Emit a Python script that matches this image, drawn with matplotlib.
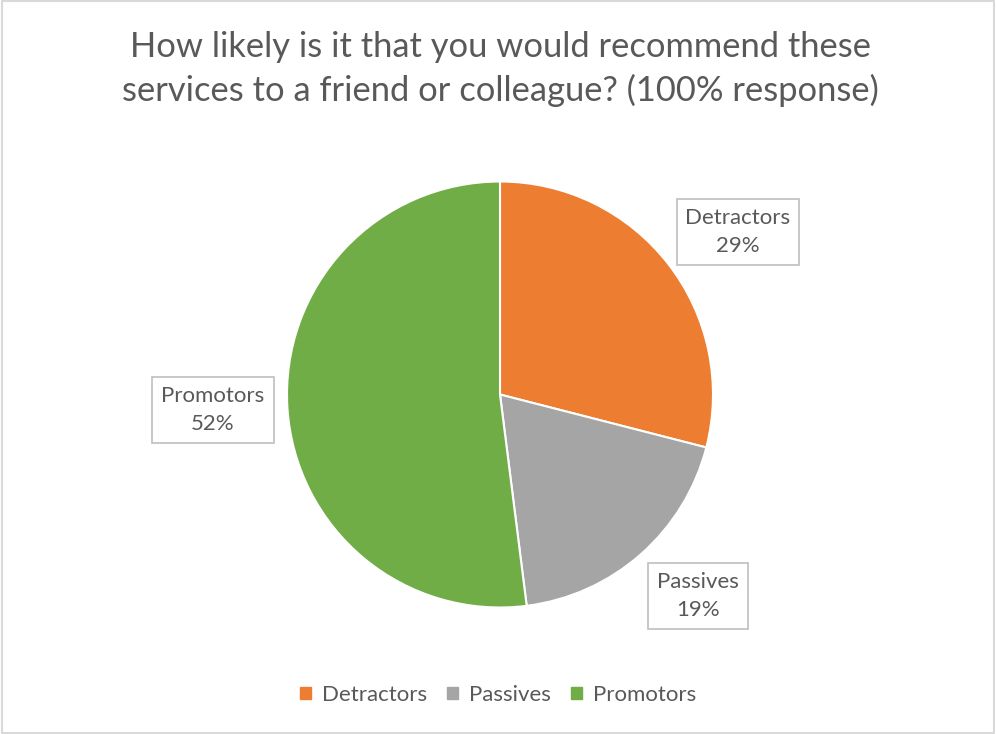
import matplotlib.pyplot as plt
from matplotlib.patches import Rectangle

plt.rcParams['font.family'] = ['Lato', 'DejaVu Sans']

categories = ["Detractors", "Passives", "Promotors"]
shares = [29, 19, 52]
colors = ["#ED7D31", "#A5A5A5", "#70AD47"]
title = "How likely is it that you would recommend these\nservices to a friend or colleague? (100% response)"
text_color = "#595959"

fig = plt.figure(figsize=(9.96, 7.34), dpi=100)
ax = fig.add_axes([0, 0, 1, 1])
ax.set_xlim(0, 996)
ax.set_ylim(734, 0)
ax.axis("off")

# chart frame
fig.patches.append(Rectangle((0.002, 0.002), 0.996, 0.996, transform=fig.transFigure,
                             fill=False, edgecolor="#D9D9D9", linewidth=1.5))

# pie axes sized so the unit circle fills it
cx, cy, r = 500, 394.5, 213
pie_ax = fig.add_axes([(cx - r) / 996, 1 - (cy + r) / 734, 2 * r / 996, 2 * r / 734])
wedges, _ = pie_ax.pie(shares, colors=colors, startangle=90, counterclock=False,
                       wedgeprops=dict(edgecolor="white", linewidth=1.5))
pie_ax.set_xlim(-1, 1)
pie_ax.set_ylim(-1, 1)
pie_ax.set_aspect("equal")

label_pos = {"Detractors": (738, 232), "Passives": (698, 596), "Promotors": (213, 410)}
for name, val in zip(categories, shares):
    x, y = label_pos[name]
    ax.text(x, y, f"{name}\n{val}%", ha="center", va="center", fontsize=16,
            color=text_color, linespacing=1.5,
            bbox=dict(boxstyle="square,pad=0.4", facecolor="white", edgecolor="#BFBFBF", linewidth=1.2))

ax.text(500, 69, title, ha="center", va="center", fontsize=24.8, color=text_color, linespacing=1.4)

handles = [plt.Rectangle((0, 0), 1, 1, color=c) for c in colors]
fig.legend(handles, categories, loc="center", bbox_to_anchor=(0.5, 1 - 695 / 734), ncol=3,
           frameon=False, fontsize=16, labelcolor=text_color, handlelength=0.5, handleheight=0.5,
           handletextpad=0.5, columnspacing=0.9)

fig.savefig("out.png", dpi=100)
